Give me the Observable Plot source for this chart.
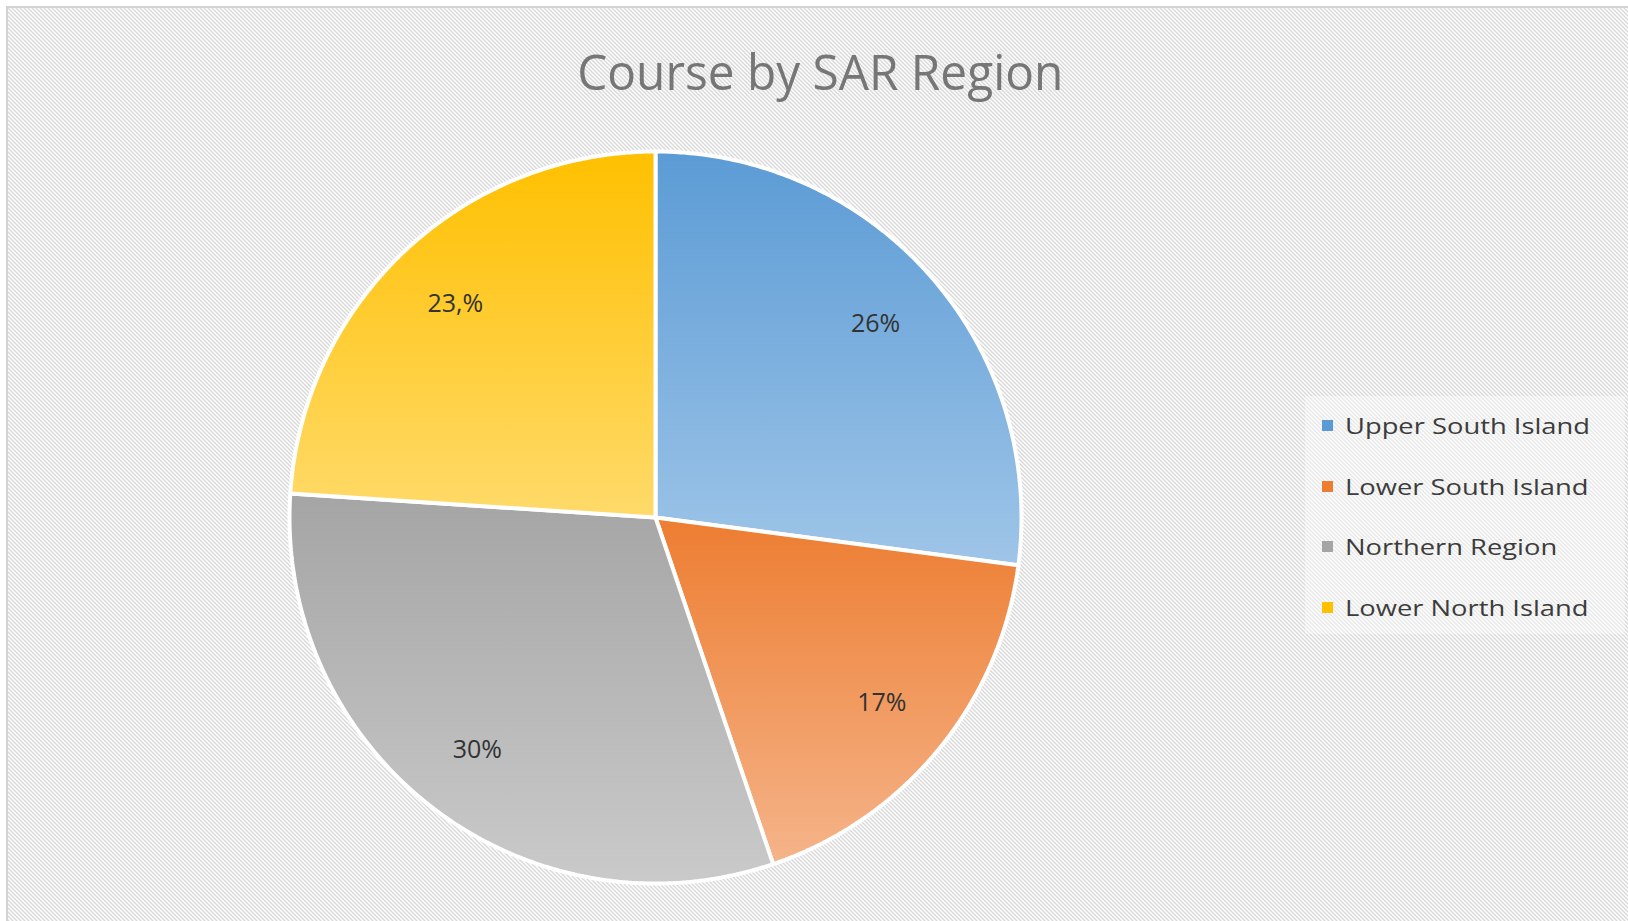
<!DOCTYPE html>
<html>
<head>
<meta charset="utf-8">
<script src="https://cdn.jsdelivr.net/npm/d3@7"></script>
<script src="https://cdn.jsdelivr.net/npm/@observablehq/plot@0.6"></script>
<style>
  html, body { margin: 0; padding: 0; background: #ffffff; width: 1628px; height: 921px; overflow: hidden; }
  #frame {
    position: absolute; left: 6px; top: 6px; width: 1640px; height: 930px;
    border-left: 2px solid #d2d2d2; border-top: 2px solid #d2d2d2;
    background-image: url("data:image/svg+xml;utf8,<svg xmlns='http://www.w3.org/2000/svg' width='4' height='4'><rect width='4' height='4' fill='white'/><path d='M0 0L4 4M-1 3L1 5M3 -1L5 1' stroke='%23d8d8d8' stroke-width='1.4'/></svg>");
  }
  #chart { position: absolute; left: 0; top: 0; }
  #title {
    position: absolute; left: 0; width: 1640px; top: 37px; text-align: center;
    font-family: "Open Sans", sans-serif; font-size: 50px; color: #767676; white-space: nowrap;
  }
  #title span { display: inline-block; transform-origin: center; }
  #legendbox { position: absolute; left: 1305px; top: 396px; width: 320px; height: 238px; background: rgba(255,255,255,0.4); }
  .lg { position: absolute; left: 1322px; height: 30px; font-family: "Open Sans", sans-serif; font-size: 22px; color: #3c3c3c; white-space: nowrap; }
  .lg .sw { position: absolute; left: 0; top: 10px; width: 11px; height: 11px; }
  .lg .tx { position: absolute; left: 23px; top: 0; line-height: 30px; display: inline-block; transform-origin: left center; }
</style>
</head>
<body>
<div id="frame"></div>
<div id="title"><span>Course by SAR Region</span></div>
<div id="legendbox"></div>
<div id="chart"></div>
<div id="legend"></div>
<script>
// ---- data ----
const regions = ["Upper South Island", "Lower South Island", "Northern Region", "Lower North Island"];
const shares = [26, 17, 30, 23];
const shareLabels = ["26%", "17%", "30%", "23,%"];

// ---- palette (top / bottom of each slice gradient) ----
const topColors = ["#5b9bd5", "#ed7d31", "#a5a5a5", "#ffc000"];
const bottomColors = ["#9fc5e8", "#f5b48a", "#cacaca", "#ffda6a"];

// ---- layout ----
const W = 1628, H = 921;
const cx = 655, cy = 517, R = 366;
const labelFrac = 0.8;

// build slice polygons (angles clockwise from 12 o'clock)
const total = d3.sum(shares);
let acc = 0;
const slices = regions.map((r, i) => {
  const a0 = acc / total * 2 * Math.PI;
  acc += shares[i];
  const a1 = acc / total * 2 * Math.PI;
  return {region: r, i, a0, a1, label: shareLabels[i]};
});

const polys = slices.map(s => {
  const n = Math.max(8, Math.ceil((s.a1 - s.a0) / (Math.PI / 360)));
  const pts = [{x: 0, y: 0}];
  for (let k = 0; k <= n; k++) {
    const a = s.a0 + (s.a1 - s.a0) * k / n;
    pts.push({x: Math.sin(a), y: Math.cos(a)});
  }
  pts.push({x: 0, y: 0});
  return pts;
});

const labelData = slices.map(s => {
  const m = (s.a0 + s.a1) / 2;
  return {x: labelFrac * Math.sin(m), y: labelFrac * Math.cos(m), label: s.label};
});

const plot = Plot.plot({
  width: W, height: H, margin: 0,
  style: {background: "transparent", overflow: "visible"},
  x: {domain: [-1, 1], range: [cx - R, cx + R], axis: null},
  y: {domain: [-1, 1], range: [cy + R, cy - R], axis: null},
  marks: [
    ...polys.map((pts, i) => Plot.line(pts, {
      x: "x", y: "y", curve: "linear",
      fill: `url(#slicegrad${i})`, stroke: "white", strokeWidth: 4, strokeLinejoin: "miter"
    })),
    Plot.text(labelData, {
      x: "x", y: "y", text: "label", fontSize: 25, fill: "#333333",
      fontFamily: "Open Sans, sans-serif", textAnchor: "middle"
    })
  ]
});

const defs = d3.select(plot).insert("defs", ":first-child");
topColors.forEach((c, i) => {
  const g = defs.append("linearGradient").attr("id", `slicegrad${i}`)
    .attr("x1", 0).attr("y1", 0).attr("x2", 0).attr("y2", 1);
  g.append("stop").attr("offset", "0%").attr("stop-color", c);
  g.append("stop").attr("offset", "100%").attr("stop-color", bottomColors[i]);
});
document.getElementById("chart").appendChild(plot);

// legend
const legend = document.getElementById("legend");
const rowTop = 410, rowStep = 60.5;
regions.forEach((r, i) => {
  const row = document.createElement("div");
  row.className = "lg";
  row.style.top = (rowTop + i * rowStep) + "px";
  row.innerHTML = `<div class="sw" style="background:${topColors[i]}"></div><span class="tx">${r}</span>`;
  legend.appendChild(row);
});

// fit text widths to the reference's measured widths
const t = document.querySelector("#title span");
const tw = t.getBoundingClientRect().width;
t.style.transform = `scaleX(${486 / tw})`;
const txs = document.querySelectorAll(".lg .tx");
const lw = txs[0].getBoundingClientRect().width;
txs.forEach(el => el.style.transform = `scaleX(${245 / lw})`);
</script>
</body>
</html>
